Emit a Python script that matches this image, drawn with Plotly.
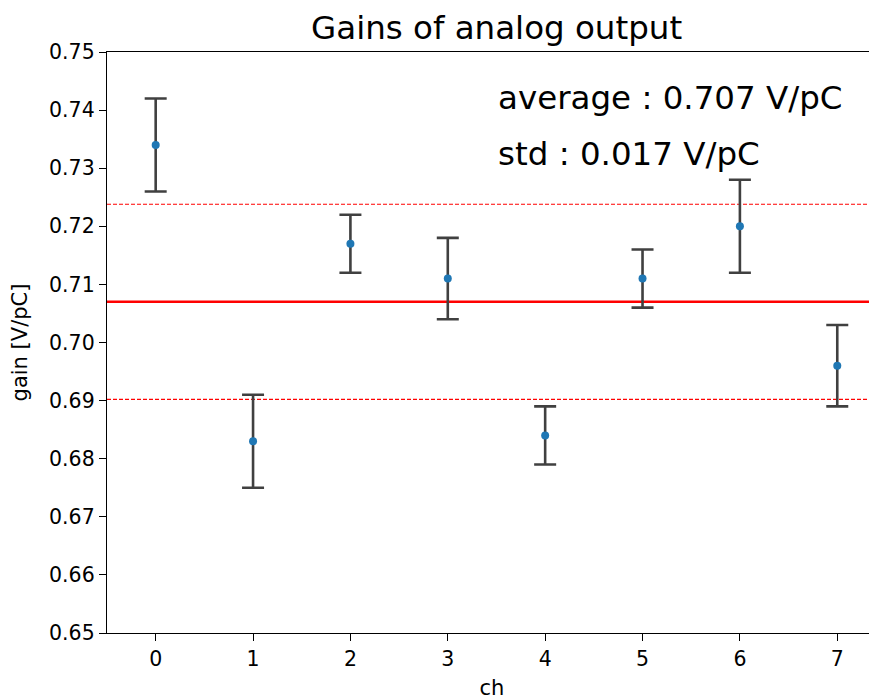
import numpy as np
import plotly.graph_objects as go

channels = [0, 1, 2, 3, 4, 5, 6, 7]
gains = [0.734, 0.683, 0.717, 0.711, 0.684, 0.711, 0.720, 0.696]
gain_errors = [0.008, 0.008, 0.005, 0.007, 0.005, 0.005, 0.008, 0.007]
y_ticks = [0.65, 0.66, 0.67, 0.68, 0.69, 0.70, 0.71, 0.72, 0.73, 0.74, 0.75]

mean = float(np.mean(gains))
std = float(np.std(gains))

FONT = "DejaVu Sans"
# page body has an 8px offset; figure is sized to fill the rest of the window
W, H = 869, 692
L, R, T, B = 99, 0, 44, 67

fig = go.Figure()
fig.add_trace(go.Scatter(
    x=channels, y=gains, mode="markers",
    marker=dict(color="#1f77b4", size=8),
    error_y=dict(type="data", array=gain_errors, visible=True,
                 color="#404040", thickness=2.6, width=11),
    showlegend=False,
))

# mean and +/- std lines
fig.add_shape(type="line", xref="paper", x0=0, x1=1, yref="y", y0=mean, y1=mean,
              line=dict(color="#ff0000", width=2.5), layer="below")
for v in (mean + std, mean - std):
    fig.add_shape(type="line", xref="paper", x0=0, x1=1, yref="y", y0=v, y1=v,
                  line=dict(color="#ff0000", width=1.2, dash="4px,2px"), layer="below")

fig.add_annotation(x=3.5, y=0.742, xref="x", yref="y", xanchor="left", yanchor="middle",
                   text=f"average : {mean:.3f} V/pC", showarrow=False,
                   font=dict(family=FONT, size=32.5, color="black"))
fig.add_annotation(x=3.5, y=0.7325, xref="x", yref="y", xanchor="left", yanchor="middle",
                   text=f"std : {std:.3f} V/pC", showarrow=False,
                   font=dict(family=FONT, size=32.5, color="black"))

fig.update_layout(
    width=W, height=H,
    margin=dict(l=L, r=R, t=T, b=B),
    paper_bgcolor="white", plot_bgcolor="white",
    font=dict(family=FONT, color="black"),
    title=dict(text="Gains of analog output", x=0.506, xref="paper", xanchor="center",
               y=1 - 19.5 / H, yref="container", yanchor="middle",
               font=dict(family=FONT, size=32.5, color="black")),
    xaxis=dict(range=[-0.5, 7.408], tickmode="array", tickvals=channels,
               ticktext=[str(c) for c in channels],
               showline=True, linecolor="black", linewidth=1.4, mirror=True,
               ticks="outside", ticklen=7, tickwidth=1.3, tickcolor="black",
               showgrid=False, zeroline=False, automargin=False,
               tickfont=dict(family=FONT, size=20.5, color="black"),
               title=dict(text="ch", font=dict(family=FONT, size=21, color="black"), standoff=10)),
    yaxis=dict(range=[0.65, 0.75], tickmode="array", tickvals=y_ticks,
               ticktext=[f"{v:.2f}" for v in y_ticks],
               showline=True, linecolor="black", linewidth=1.4,
               ticks="outside", ticklen=7, tickwidth=1.3, tickcolor="black",
               showgrid=False, zeroline=False,
               tickfont=dict(family=FONT, size=20.5, color="black"),
               title=dict(text="gain [V/pC]", font=dict(family=FONT, size=21, color="black"), standoff=17)),
)

fig.write_html("out.html")
